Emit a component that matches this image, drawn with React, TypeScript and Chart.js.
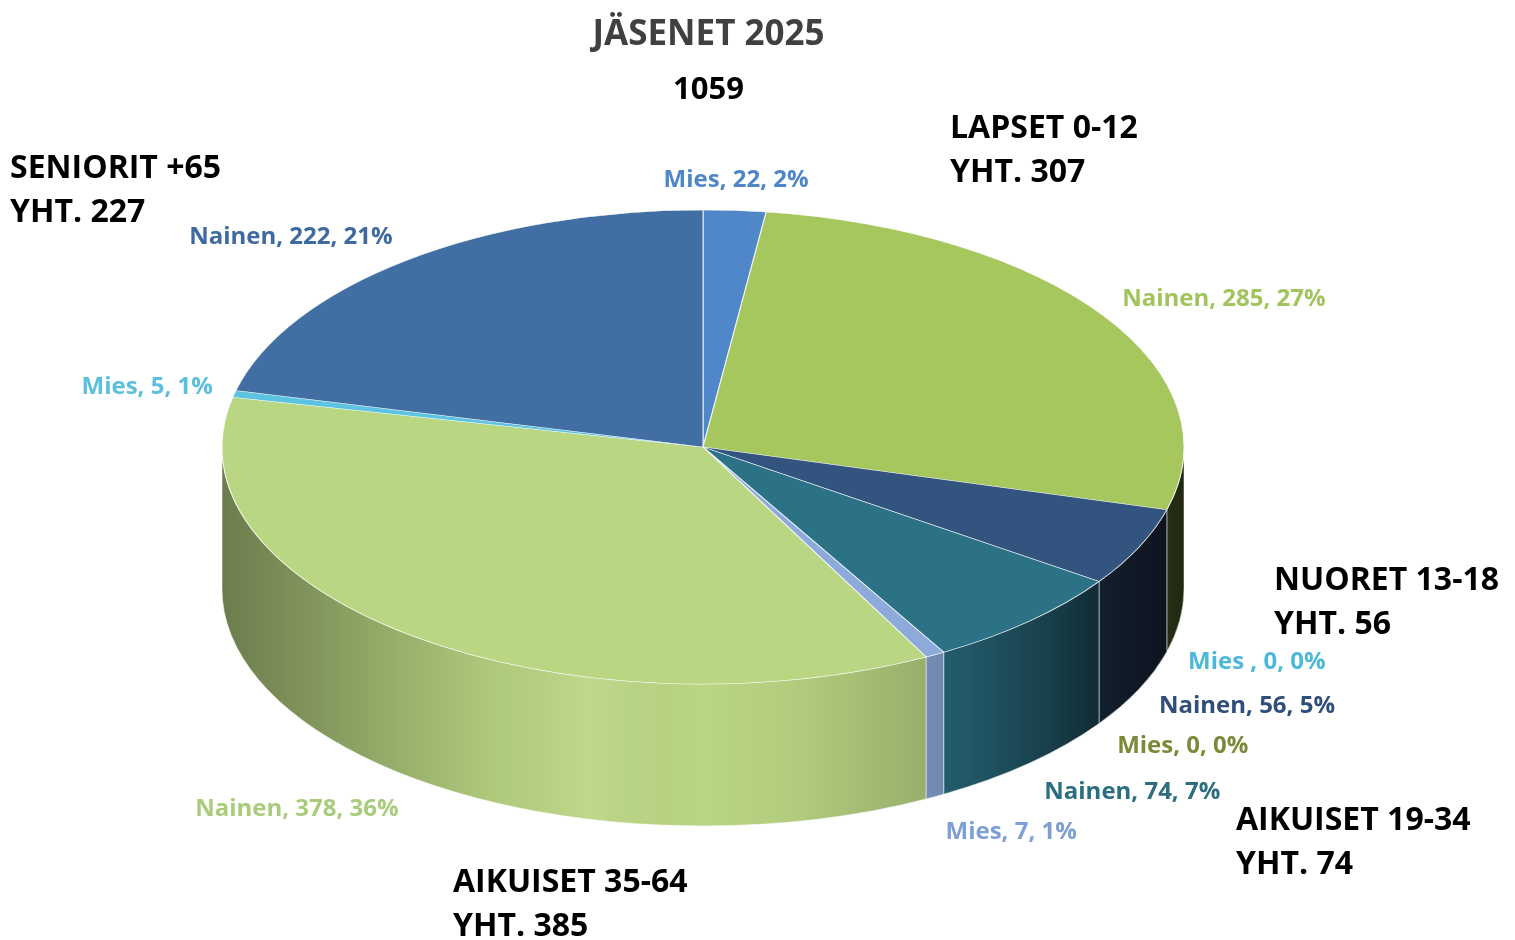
import React, { useEffect, useRef } from "react";
import { Chart, registerables } from "chart.js";

Chart.register(...registerables);

// ---------------- data ----------------
const chartTitle = "JÄSENET 2025";
const chartTotal = "1059";

const sliceGenders = ["Mies", "Nainen", "Mies ", "Nainen", "Mies", "Nainen", "Mies", "Nainen", "Mies", "Nainen"];
const sliceValues = [22, 285, 0, 56, 0, 74, 7, 378, 5, 222];
const slicePercents = [2, 27, 0, 5, 0, 7, 1, 36, 1, 21];
const sliceGroupIndex = [0, 0, 1, 1, 2, 2, 3, 3, 4, 4];

const groupNames = ["LAPSET 0-12", "NUORET 13-18", "AIKUISET 19-34", "AIKUISET 35-64", "SENIORIT +65"];
const groupTotalPrefix = "YHT.";

// ---------------- styles ----------------
const sliceColors = ["#4F87C8", "#A6C75E", "#5BC0DE", "#33547E", "#7F9140", "#2B7287", "#8EAADB", "#B9D683", "#5CC3E0", "#416EA3"];
const labelColors = ["#4E86C8", "#A2C45C", "#4DB8DA", "#2F4E7B", "#7A8A38", "#2B6E80", "#7E9ED6", "#A8CC7C", "#5BBFDD", "#3E6AA0"];
const groupLabelAnchors: [number, number][] = [
  [950, 138],
  [1274, 590],
  [1236, 830],
  [453, 892],
  [10, 178],
];
const GEOM = { cx: 703, cy: 447, rx: 481, ry: 237, depth: 142 };
const FONT = '"Open Sans", "Noto Sans", sans-serif';

function wallShade(ctx: CanvasRenderingContext2D, x0: number, x1: number) {
  const g = ctx.createLinearGradient(x0, 0, x1, 0);
  g.addColorStop(0, "rgba(0,0,0,0.42)");
  g.addColorStop(0.08, "rgba(0,0,0,0.32)");
  g.addColorStop(0.185, "rgba(0,0,0,0.18)");
  g.addColorStop(0.29, "rgba(0,0,0,0.05)");
  g.addColorStop(0.38, "rgba(255,255,255,0.08)");
  g.addColorStop(0.5, "rgba(0,0,0,0.0)");
  g.addColorStop(0.6, "rgba(0,0,0,0.05)");
  g.addColorStop(0.7, "rgba(0,0,0,0.15)");
  g.addColorStop(0.77, "rgba(0,0,0,0.22)");
  g.addColorStop(0.86, "rgba(0,0,0,0.45)");
  g.addColorStop(0.92, "rgba(0,0,0,0.65)");
  g.addColorStop(1, "rgba(0,0,0,0.8)");
  return g;
}

const pie3dPlugin = {
  id: "pie3d",
  beforeDatasetsDraw(chart: any) {
    const meta = chart.getDatasetMeta(0);
    const arcs = meta.data as any[];
    if (!arcs.length) return;
    const ctx: CanvasRenderingContext2D = chart.ctx;
    const { cx, cy, rx, ry, depth } = GEOM;
    const colors = chart.data.datasets[0].backgroundColor as string[];
    arcs.forEach((arc, i) => {
      const { startAngle, endAngle } = arc.getProps(["startAngle", "endAngle"], true);
      const a = Math.max(startAngle, 0);
      const b = Math.min(endAngle, Math.PI);
      if (b - a <= 1e-6) return;
      ctx.save();
      ctx.beginPath();
      ctx.ellipse(cx, cy, rx, ry, 0, a, b, false);
      ctx.ellipse(cx, cy + depth, rx, ry, 0, b, a, true);
      ctx.closePath();
      ctx.fillStyle = colors[i];
      ctx.fill();
      ctx.fillStyle = wallShade(ctx, cx - rx, cx + rx);
      ctx.fill();
      ctx.strokeStyle = "rgba(255,255,255,0.5)";
      ctx.lineWidth = 1;
      ctx.stroke();
      ctx.restore();
    });
    const first = arcs[0].getProps(["x", "y", "outerRadius"], true);
    ctx.save();
    ctx.translate(cx, cy);
    ctx.scale(rx / first.outerRadius, ry / first.outerRadius);
    ctx.translate(-first.x, -first.y);
  },
  afterDatasetsDraw(chart: any) {
    const meta = chart.getDatasetMeta(0);
    const arcs = meta.data as any[];
    if (!arcs.length) return;
    const ctx: CanvasRenderingContext2D = chart.ctx;
    ctx.restore();
    const { cx, cy, rx, ry, depth } = GEOM;

    // slice labels
    ctx.save();
    ctx.font = `bold 24px ${FONT}`;
    ctx.textBaseline = "middle";
    arcs.forEach((arc, i) => {
      const { startAngle, endAngle } = arc.getProps(["startAngle", "endAngle"], true);
      const mid = (startAngle + endAngle) / 2;
      const c = Math.cos(mid);
      const s = Math.sin(mid);
      const front = s > 0;
      const x = cx + (rx + 22) * c;
      const y = cy + (ry + (front ? 40 : 30)) * s + (front ? depth : 0);
      ctx.textAlign = Math.abs(c) < 0.3 ? "center" : c > 0 ? "left" : "right";
      ctx.fillStyle = labelColors[i];
      ctx.fillText(`${sliceGenders[i]}, ${sliceValues[i]}, ${slicePercents[i]}%`, x, y);
    });
    ctx.restore();

    // group labels
    ctx.save();
    ctx.font = `bold 32px ${FONT}`;
    ctx.fillStyle = "#000000";
    ctx.textAlign = "left";
    ctx.textBaseline = "alphabetic";
    groupNames.forEach((name, g) => {
      const total = sliceValues
        .filter((_, i) => sliceGroupIndex[i] === g)
        .reduce((acc, v) => acc + v, 0);
      const [x, y] = groupLabelAnchors[g];
      ctx.fillText(name, x, y);
      ctx.fillText(`${groupTotalPrefix} ${total}`, x, y + 44);
    });
    ctx.restore();
  },
};

export default function App() {
  const canvasRef = useRef<HTMLCanvasElement | null>(null);

  useEffect(() => {
    let chart: Chart | null = null;
    let cancelled = false;
    const make = () => {
      if (cancelled || !canvasRef.current) return;
      chart = new Chart(canvasRef.current, {
        type: "pie",
        data: {
          labels: sliceGenders,
          datasets: [
            {
              data: sliceValues,
              backgroundColor: sliceColors,
              borderColor: "rgba(255,255,255,0.75)",
              borderWidth: 1,
              clip: false as any,
            } as any,
          ],
        },
        options: {
          responsive: false,
          animation: false,
          layout: { padding: { left: 0, right: 98, top: 0, bottom: 10 } },
          plugins: {
            legend: { display: false },
            tooltip: { enabled: false },
            title: {
              display: true,
              text: chartTitle,
              color: "#404040",
              font: { family: FONT, size: 35, weight: "bold" },
              padding: { top: 14, bottom: 0 },
            },
            subtitle: {
              display: true,
              text: chartTotal,
              color: "#000000",
              font: { family: FONT, size: 31, weight: "bold" },
              padding: { top: 16, bottom: 10 },
            },
          },
        } as any,
        plugins: [pie3dPlugin as any],
      });
    };
    const fontsReady = (document as any).fonts
      ? Promise.all([
          (document as any).fonts.load(`bold 32px "Open Sans"`),
          (document as any).fonts.load(`24px "Open Sans"`),
        ]).catch(() => null)
      : Promise.resolve(null);
    fontsReady.then(make);
    return () => {
      cancelled = true;
      if (chart) chart.destroy();
    };
  }, []);

  return (
    <div style={{ position: "absolute", left: 0, top: 0, width: 1515, height: 940, background: "#ffffff" }}>
      <canvas ref={canvasRef} width={1515} height={940} />
    </div>
  );
}
